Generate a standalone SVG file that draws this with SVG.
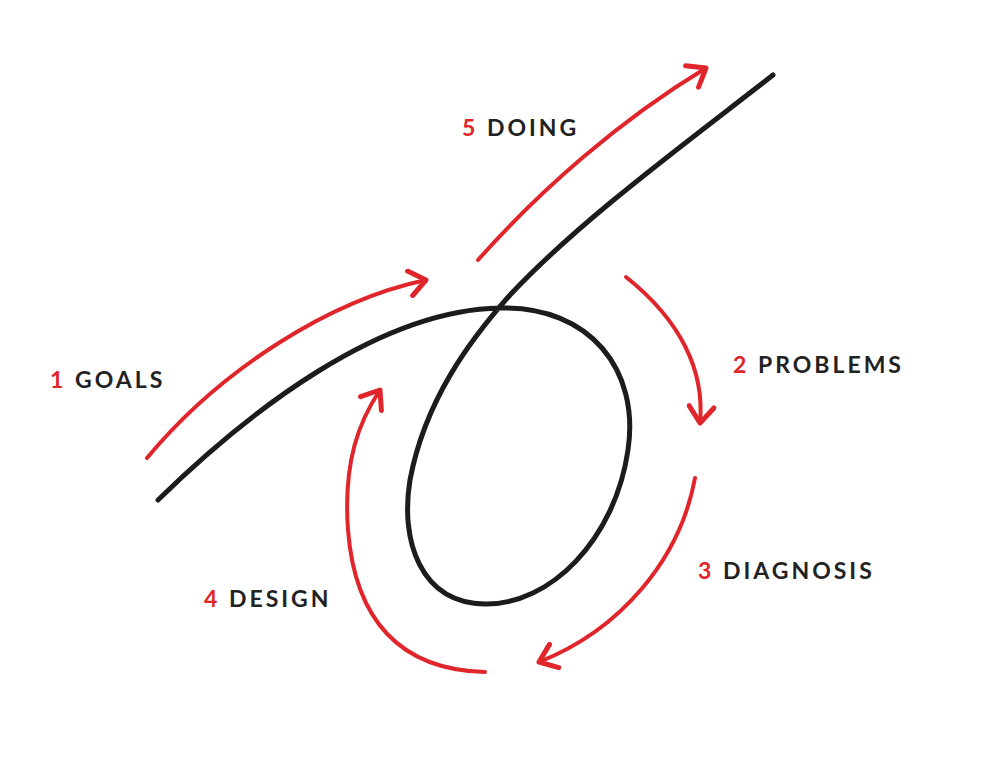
<svg xmlns="http://www.w3.org/2000/svg" width="990" height="772" viewBox="0 0 990 772">
<style>
.red{fill:none;stroke:#e0252b;stroke-width:4;stroke-linecap:round;marker-end:url(#ah)}
.blk{fill:none;stroke:#1c1c1c;stroke-width:5;stroke-linecap:round}
.lbl{font-family:Lato,"Liberation Sans",sans-serif;font-weight:bold;font-size:23px;letter-spacing:3px;fill:#222}
.num{fill:#e0252b}
</style>
<defs>
<marker id="ah" markerUnits="userSpaceOnUse" markerWidth="30" markerHeight="30" viewBox="-16 -12 20 24" refX="0" refY="0" orient="auto">
<path d="M-13,-10 L0,0 L-13,10" fill="none" stroke="#e0252b" stroke-width="4" stroke-linecap="round" stroke-linejoin="round"/>
</marker>
</defs>
<rect width="990" height="772" fill="#fff"/>
<g id="connectors">
<path class="blk" d="M158,500 C250,410 380,310 500,308 C590,306 640,370 628,450 C615,540 550,605 485,604 C420,603 400,540 410,480 C425,400 470,340 510,295 C580,220 690,140 773,75"/>
<path class="red" d="M147,458 C220,370 330,300 426,280"/>
<path class="red" d="M478,260 C540,190 620,120 706,68"/>
<path class="red" d="M626,277 C680,320 705,370 700,423"/>
<path class="red" d="M695,478 C680,560 620,630 539,662"/>
<path class="red" d="M485,672 C400,670 355,620 348,530 C343,460 360,420 380,390"/>
</g>
<g id="goals"><text class="lbl" x="50" y="388"><tspan class="num">1</tspan> GOALS</text></g>
<g id="problems"><text class="lbl" x="733" y="373"><tspan class="num">2</tspan> PROBLEMS</text></g>
<g id="diagnosis"><text class="lbl" x="698" y="579"><tspan class="num">3</tspan> DIAGNOSIS</text></g>
<g id="design"><text class="lbl" x="204" y="607"><tspan class="num">4</tspan> DESIGN</text></g>
<g id="doing"><text class="lbl" x="462" y="136"><tspan class="num">5</tspan> DOING</text></g>
</svg>
